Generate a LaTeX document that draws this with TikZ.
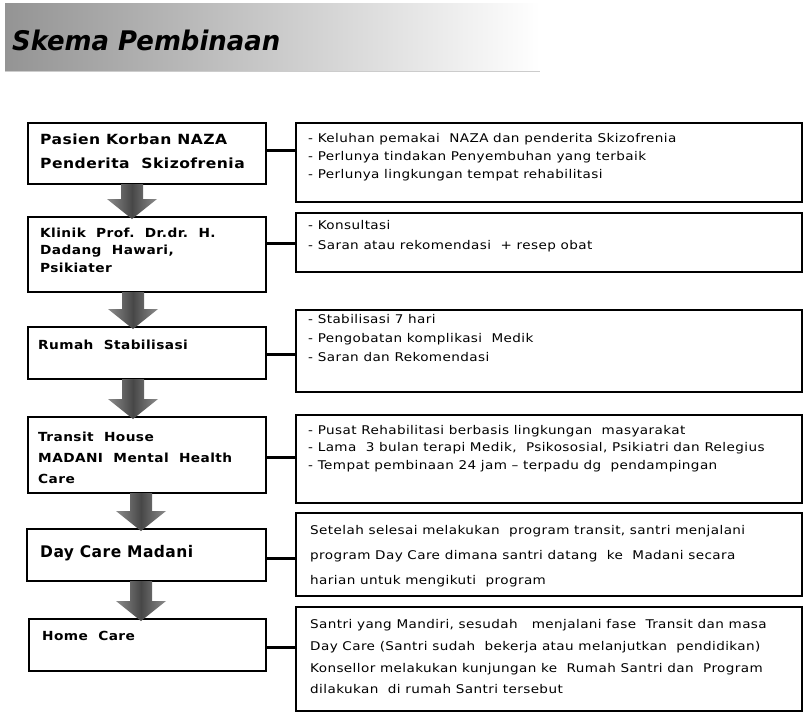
\documentclass[tikz,border=0pt]{standalone}
\usepackage{fontspec}
\usepackage{graphicx}
\setmainfont{DejaVu Sans}
\newfontfamily\lfont[LetterSpace=3]{DejaVu Sans}
\newfontfamily\rfont[LetterSpace=3]{DejaVu Sans}
\usetikzlibrary{calc}
\newcommand\fitscale[3]{\sbox0{#3}\xdef#1{\fpeval{(#2)/(\the\wd0)}}}
\newcommand\mkbox[5]{\node[box, minimum width=#4-#2, minimum height=#5-#3] (#1) at (#2,#3) {};}
\newcommand\blockarrow[3]{%
  \shade[arrowshade] let \p1=(#1.south), \p2=(#2.north) in
   (#3pt-11pt,\y1) -- (#3pt+11pt,\y1) -- (#3pt+11pt,\y2+18pt) -- (#3pt+25pt,\y2+18pt)
   -- (#3pt,\y2-2pt) -- (#3pt-25pt,\y2+18pt) -- (#3pt-11pt,\y2+18pt) -- cycle;}
% right text block: #1 line spacing, #2 lines
\newcommand\rlines[2]{\scalebox{\rsx}[1]{\rfont\fontsize{12}{#1}\selectfont\begin{tabular}{@{}l@{}}#2\end{tabular}}}
% left text block: #1 scale, #2 size, #3 spacing, #4 lines
\newcommand\llines[4]{\scalebox{#1}[1]{\lfont\bfseries\fontsize{#2}{#3}\selectfont\begin{tabular}{@{}l@{}}#4\end{tabular}}}
\begin{document}
\fitscale\rsx{435}{\rfont\fontsize{12}{18}\selectfont Setelah selesai melakukan\ \ program transit, santri menjalani}%
\fitscale\lsx{194}{\lfont\bfseries\fontsize{12.5}{18}\selectfont MADANI\ \ Mental\ \ Health}%
\fitscale\lsa{187}{\lfont\bfseries\fontsize{14}{18}\selectfont Pasien Korban NAZA}%
\fitscale\lsb{153}{\lfont\bfseries\fontsize{16}{18}\selectfont Day Care Madani}%
\fitscale\tsx{268}{\bfseries\itshape\fontsize{27}{30}\selectfont Skema Pembinaan}%
\begin{tikzpicture}[x=1pt,y=-1pt,
  box/.style={draw=black, line width=2pt, fill=white, inner sep=0pt, outer sep=0pt, anchor=north west},
  link/.style={line width=3pt, black},
  arrowshade/.style={left color=black!45, right color=black!45, middle color=black!72},
  txt/.style={anchor=west, inner sep=0pt}]
\useasboundingbox (0,0) rectangle (805,713);
% title banner
\shade[left color=black!42, right color=white, draw=none] (5,3) rectangle (540,71);
\draw[black!20, line width=0.8pt] (5,71) -- (540,71);
\node[anchor=base west, inner sep=0pt] (title) at (12,50) {\scalebox{\tsx}[1]{\bfseries\itshape\fontsize{27}{30}\selectfont Skema Pembinaan}};
% left boxes
\mkbox{b1}{28}{123}{266}{184}
\mkbox{b2}{28}{217}{266}{292}
\mkbox{b3}{28}{327}{266}{379}
\mkbox{b4}{28}{417}{266}{493}
\mkbox{b5}{27}{529}{266}{581}
\mkbox{b6}{29}{619}{266}{671}
% right boxes
\mkbox{r1}{296}{123}{802}{202}
\mkbox{r2}{296}{213}{802}{272}
\mkbox{r3}{296}{310}{802}{392}
\mkbox{r4}{296}{415}{802}{503}
\mkbox{r5}{296}{513}{802}{596}
\mkbox{r6}{296}{607}{802}{711}
% connectors
\draw[link] (b1.east |- 0,150) -- (r1.west |- 0,150);
\draw[link] (b2.east |- 0,243) -- (r2.west |- 0,243);
\draw[link] (b3.east |- 0,354) -- (r3.west |- 0,354);
\draw[link] (b4.east |- 0,457) -- (r4.west |- 0,457);
\draw[link] (b5.east |- 0,558) -- (r5.west |- 0,558);
\draw[link] (b6.east |- 0,647) -- (r6.west |- 0,647);
% block arrows
\blockarrow{b1}{b2}{132}
\blockarrow{b2}{b3}{133}
\blockarrow{b3}{b4}{133}
\blockarrow{b4}{b5}{141}
\blockarrow{b5}{b6}{141}
% left texts
\node[txt] (t1) at (40,152) {\llines{\lsa}{14}{24}{Pasien Korban NAZA\\Penderita\ \ Skizofrenia}};
\node[txt] (t2) at (40,251) {\llines{\lsx}{12.5}{17.5}{Klinik\ \ Prof.\ \ Dr.dr.\ \ H.\\Dadang\ \ Hawari,\\Psikiater}};
\node[txt] (t3) at (38,346) {\llines{\lsx}{12.5}{17}{Rumah\ \ Stabilisasi}};
\node[txt] (t4) at (38,458) {\llines{\lsx}{12.5}{21}{Transit\ \ House\\MADANI\ \ Mental\ \ Health\\Care}};
\node[txt] (t5) at (40,554) {\llines{\lsb}{16}{17}{Day Care Madani}};
\node[txt] (t6) at (42,637) {\llines{\lsx}{12.5}{17}{Home\ \ Care}};
% right texts
\node[txt] (s1) at (308,157) {\rlines{18}{- Keluhan pemakai\ \ NAZA dan penderita Skizofrenia\\- Perlunya tindakan Penyembuhan yang terbaik\\- Perlunya lingkungan tempat rehabilitasi}};
\node[txt] (s2) at (308,235) {\rlines{20}{- Konsultasi\\- Saran atau rekomendasi\ \ + resep obat}};
\node[txt] (s3) at (308,339) {\rlines{19}{- Stabilisasi 7 hari\\- Pengobatan komplikasi\ \ Medik\\- Saran dan Rekomendasi}};
\node[txt] (s4) at (308,448) {\rlines{17.5}{- Pusat Rehabilitasi berbasis lingkungan\ \ masyarakat\\- Lama\ \ 3 bulan terapi Medik,\ \ Psikososial, Psikiatri dan Relegius\\- Tempat pembinaan 24 jam – terpadu dg\ \ pendampingan}};
\node[txt] (s5) at (310,554) {\rlines{25}{Setelah selesai melakukan\ \ program transit, santri menjalani\\program Day Care dimana santri datang\ \ ke\ \ Madani secara\\harian untuk mengikuti\ \ program}};
\node[txt] (s6) at (310,657) {\rlines{21.7}{Santri yang Mandiri, sesudah\ \ \ menjalani fase\ \ Transit dan masa\\Day Care (Santri sudah\ \ bekerja atau melanjutkan\ \ pendidikan)\\Konsellor melakukan kunjungan ke\ \ Rumah Santri dan\ \ Program\\dilakukan\ \ di rumah Santri tersebut}};
\end{tikzpicture}
\end{document}
